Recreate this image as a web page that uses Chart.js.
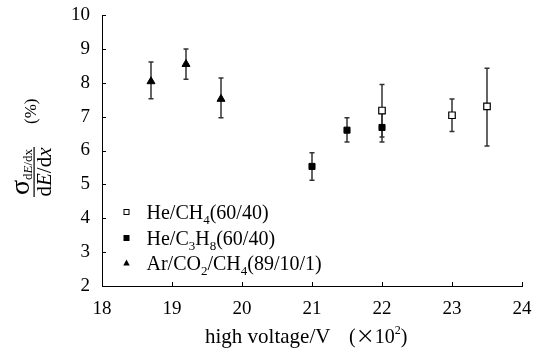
<!DOCTYPE html>
<html>
<head>
<meta charset="utf-8">
<script src="https://cdn.jsdelivr.net/npm/chart.js@4"></script>
<style>
    html, body { margin: 0; padding: 0; background: #fff; }
    #wrap { width: 540px; height: 352px; }
</style>
</head>
<body>
<div id="wrap"><canvas id="chart" width="540" height="352"></canvas></div>
<script>
// He/CH4(60/40)
const heCh4X = [22.0, 23.0, 23.5];
const heCh4Y = [7.18, 7.04, 7.30];
const heCh4Lo = [6.40, 6.56, 6.13];
const heCh4Hi = [7.95, 7.52, 8.43];

// He/C3H8(60/40)
const heC3h8X = [21.0, 21.5, 22.0];
const heC3h8Y = [5.53, 6.60, 6.68];
const heC3h8Lo = [5.12, 6.25, 6.25];
const heC3h8Hi = [5.93, 6.97, 7.10];

// Ar/CO2/CH4(89/10/1)
const arX = [18.7, 19.2, 19.7];
const arY = [8.04, 8.55, 7.52];
const arLo = [7.53, 8.10, 6.97];
const arHi = [8.61, 9.00, 8.14];

const xTicks = [18, 19, 20, 21, 22, 23, 24];
const yTicks = [2, 3, 4, 5, 6, 7, 8, 9, 10];

const FONT = "'Liberation Serif', 'Times New Roman', serif";
const CJK = "'Noto Sans CJK SC', sans-serif";

function toPoints(xs, ys) {
    return xs.map((x, i) => ({ x: x, y: ys[i] }));
}

// draw text made of parts (normal / subscript / superscript / italic)
function drawRich(ctx, parts, x, y, measureOnly) {
    let cx = x;
    parts.forEach(p => {
        ctx.font = (p.it ? "italic " : "") + p.size + "px " + (p.family || FONT);
        if (!measureOnly) ctx.fillText(p.t, cx, y + (p.dy || 0));
        cx += ctx.measureText(p.t).width;
    });
    return cx - x;
}

function sub(t, size) { return { t: t, size: size || 13, dy: 5 }; }
function txt(t, size) { return { t: t, size: size || 20 }; }

const legendRows = [
    { style: "openRect", parts: [txt("He/CH"), sub("4"), txt("(60/40)")] },
    { style: "fillRect", parts: [txt("He/C"), sub("3"), txt("H"), sub("8"), txt("(60/40)")] },
    { style: "triangle", parts: [txt("Ar/CO"), sub("2"), txt("/CH"), sub("4"), txt("(89/10/1)")] }
];

const errorBars = [
    { xs: heCh4X, lo: heCh4Lo, hi: heCh4Hi },
    { xs: heC3h8X, lo: heC3h8Lo, hi: heC3h8Hi },
    { xs: arX, lo: arLo, hi: arHi }
];

const decorPlugin = {
    id: "decor",
    beforeDatasetsDraw(chart) {
        const ctx = chart.ctx;
        const xs = chart.scales.x, ys = chart.scales.y;
        ctx.save();
        ctx.strokeStyle = "#333";
        ctx.lineWidth = 1.5;
        errorBars.forEach(eb => {
            eb.xs.forEach((xv, i) => {
                const px = xs.getPixelForValue(xv);
                const top = ys.getPixelForValue(eb.hi[i]);
                const bot = ys.getPixelForValue(eb.lo[i]);
                ctx.beginPath();
                ctx.moveTo(px, top); ctx.lineTo(px, bot);
                ctx.moveTo(px - 2.5, top); ctx.lineTo(px + 2.5, top);
                ctx.moveTo(px - 2.5, bot); ctx.lineTo(px + 2.5, bot);
                ctx.stroke();
            });
        });
        ctx.restore();
    },
    afterDraw(chart) {
        const ctx = chart.ctx;
        const area = chart.chartArea;
        const xs = chart.scales.x, ys = chart.scales.y;
        ctx.save();
        ctx.fillStyle = "#000";
        ctx.strokeStyle = "#000";

        // inward tick marks
        ctx.lineWidth = 1;
        ctx.beginPath();
        xTicks.forEach(v => {
            const px = Math.round(xs.getPixelForValue(v)) + 0.5;
            ctx.moveTo(px, area.bottom); ctx.lineTo(px, area.bottom - 4);
        });
        yTicks.forEach(v => {
            const py = Math.round(ys.getPixelForValue(v)) + 0.5;
            ctx.moveTo(area.left, py); ctx.lineTo(area.left + 4, py);
        });
        ctx.stroke();

        // legend
        ctx.textBaseline = "alphabetic";
        ctx.textAlign = "left";
        const lx = 126.5, tx = 146.5;
        const rowY = [212, 238, 263];
        legendRows.forEach((row, i) => {
            const y = rowY[i];
            ctx.lineWidth = 1;
            if (row.style === "openRect") {
                ctx.fillStyle = "#fff";
                ctx.fillRect(lx - 2.5, y - 2.5, 5, 5);
                ctx.strokeRect(lx - 2.5, y - 2.5, 5, 5);
            } else if (row.style === "fillRect") {
                ctx.fillStyle = "#000";
                ctx.fillRect(lx - 3, y - 3, 6, 6);
            } else {
                ctx.fillStyle = "#000";
                ctx.beginPath();
                ctx.moveTo(lx, y - 3.5);
                ctx.lineTo(lx + 3.2, y + 2.5);
                ctx.lineTo(lx - 3.2, y + 2.5);
                ctx.closePath();
                ctx.fill();
            }
            ctx.fillStyle = "#000";
            drawRich(ctx, row.parts, tx, y + 7);
        });

        // x axis title
        drawRich(ctx, [txt("high voltage/V", 21)], 205, 343);
        drawRich(ctx, [
            txt("("),
            { t: "\u00d7", size: 19, family: CJK },
            txt("10"),
            { t: "2", size: 12, dy: -9 },
            txt(")")
        ], 349, 343);

        // y axis title (rotated fraction)
        ctx.translate(34, 197);
        ctx.rotate(-Math.PI / 2);
        const fracW = 50;
        const numParts = [
            { t: "\u03c3", size: 28 },
            { t: "d", size: 13, dy: 3 },
            { t: "E", size: 13, dy: 3, it: true },
            { t: "/dx", size: 13, dy: 3 }
        ];
        const denParts = [
            { t: "d", size: 21 },
            { t: "E", size: 21, it: true },
            { t: "/d", size: 21 },
            { t: "x", size: 21, it: true }
        ];
        const nw = drawRich(ctx, numParts, 0, 0, true);
        drawRich(ctx, numParts, (fracW - nw) / 2, -5);
        const dw = drawRich(ctx, denParts, 0, 0, true);
        drawRich(ctx, denParts, (fracW - dw) / 2, 17);
        ctx.fillRect(0, -0.5, fracW, 1.2);
        drawRich(ctx, [txt("(%)", 17)], 73, 2);

        ctx.restore();
    }
};

new Chart(document.getElementById("chart"), {
    type: "scatter",
    data: {
        datasets: [
            {
                label: "He/CH4(60/40)",
                data: toPoints(heCh4X, heCh4Y),
                pointStyle: "rect",
                pointRadius: 4.6,
                backgroundColor: "#fff",
                borderColor: "#000",
                borderWidth: 1.2
            },
            {
                label: "He/C3H8(60/40)",
                data: toPoints(heC3h8X, heC3h8Y),
                pointStyle: "rect",
                pointRadius: 4.3,
                backgroundColor: "#000",
                borderColor: "#000",
                borderWidth: 1
            },
            {
                label: "Ar/CO2/CH4(89/10/1)",
                data: toPoints(arX, arY),
                pointStyle: "triangle",
                pointRadius: 4.6,
                backgroundColor: "#000",
                borderColor: "#000",
                borderWidth: 1
            }
        ]
    },
    options: {
        responsive: false,
        animation: false,
        layout: { padding: { left: 0, top: 15, right: 18, bottom: 0 } },
        plugins: {
            legend: { display: false },
            tooltip: { enabled: false }
        },
        scales: {
            x: {
                type: "linear",
                min: 18,
                max: 24,
                afterBuildTicks: (scale) => { scale.ticks = xTicks.map(v => ({ value: v })); },
                afterFit: (scale) => {
                    scale.height = 66;
                    scale.paddingLeft = 0;
                    scale.paddingRight = 0;
                },
                grid: { display: false, drawTicks: false },
                border: { display: true, color: "#000", width: 1 },
                ticks: {
                    color: "#000",
                    padding: 12,
                    font: { family: FONT, size: 19 }
                }
            },
            y: {
                type: "linear",
                min: 2,
                max: 10,
                afterBuildTicks: (scale) => { scale.ticks = yTicks.map(v => ({ value: v })); },
                afterFit: (scale) => {
                    scale.width = 102;
                    scale.paddingTop = 0;
                    scale.paddingBottom = 0;
                },
                grid: { display: false, drawTicks: false },
                border: { display: true, color: "#000", width: 1 },
                ticks: {
                    color: "#000",
                    padding: 12,
                    font: { family: FONT, size: 19 }
                }
            }
        }
    },
    plugins: [decorPlugin]
});
</script>
</body>
</html>
